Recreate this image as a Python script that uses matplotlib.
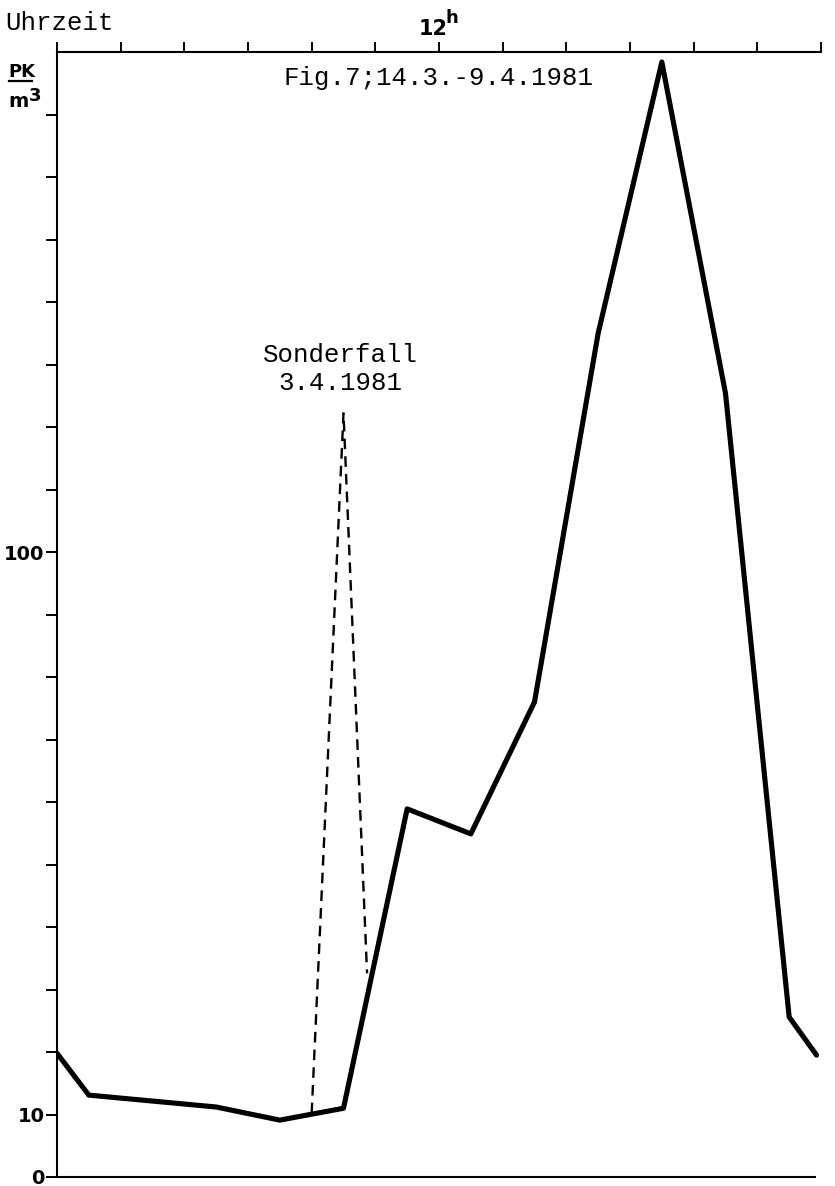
import matplotlib
matplotlib.use("Agg")
import matplotlib.pyplot as plt
from matplotlib.lines import Line2D

# Pollen counts (PK/m^3) by time of day, mean curve 14.3.-9.4.1981
hours_mean = [6.0, 6.5, 8.5, 9.5, 10.5, 11.5, 12.5, 13.5, 14.5, 15.5, 16.5, 17.5, 17.93]
pk_mean = [19.8, 13.1, 11.2, 9.1, 11.0, 58.9, 54.9, 76.0, 135.0, 178.4, 125.4, 25.6, 19.5]

# Special case 3.4.1981
hours_special = [10.0, 10.5, 10.87]
pk_special = [10.2, 122.2, 32.6]

hour_ticks = list(range(6, 19))
pk_ticks = list(range(0, 180, 10))
pk_labelled = {0: "0", 10: "10", 100: "100"}

mono = ["Liberation Mono", "DejaVu Sans Mono"]
sans_bold = dict(family="DejaVu Sans", fontweight="bold")
mono_size = 18.5

W, H = 835, 1186
fig = plt.figure(figsize=(W / 100, H / 100), dpi=100)
left, right, top, bottom = 57, 821, 52, 1177
ax = fig.add_axes([left / W, (H - bottom) / H, (right - left) / W, (bottom - top) / H])

ax.plot(hours_mean, pk_mean, color="black", lw=3.7, solid_joinstyle="round",
        solid_capstyle="round", zorder=3)
ax.plot(hours_special, pk_special, color="black", lw=1.7, dashes=(4.5, 3), zorder=2)

ax.set_xlim(6, 18)
ax.set_ylim(0, 180)

ax.spines["right"].set_visible(False)
for side in ("left", "top", "bottom"):
    ax.spines[side].set_linewidth(1.5)
ax.spines["bottom"].set_bounds(6, 17.9)

# top time axis
ax.xaxis.tick_top()
ax.set_xticks(hour_ticks)
ax.set_xticklabels([""] * len(hour_ticks))
ax.tick_params(axis="x", direction="out", length=7, width=1.4, top=True, bottom=False)

# left count axis
ax.set_yticks(pk_ticks)
ax.set_yticklabels([pk_labelled.get(t, "") for t in pk_ticks], fontsize=14, **sans_bold)
ax.tick_params(axis="y", direction="out", length=8, width=1.4, pad=1)

# texts
fig.text(5 / W, 1 - 30 / H, "Uhrzeit", family=mono, fontsize=mono_size, ha="left",
         va="baseline")
ax.annotate("12", xy=(12, 180), xycoords="data", xytext=(-4, 12), textcoords="offset points",
            ha="center", va="baseline", fontsize=15, **sans_bold)
ax.annotate("h", xy=(12, 180), xycoords="data", xytext=(9, 21), textcoords="offset points",
            ha="center", va="baseline", fontsize=13, **sans_bold)

fig.text(8 / W, 1 - 77 / H, "PK", ha="left", va="baseline", fontsize=13, **sans_bold)
fig.add_artist(Line2D([9 / W, 32 / W], [1 - 81 / H, 1 - 81 / H], color="black", lw=1.6))
fig.text(8 / W, 1 - 107 / H, "m", ha="left", va="baseline", fontsize=14, **sans_bold)
fig.text(29 / W, 1 - 101 / H, "3", ha="left", va="baseline", fontsize=13, **sans_bold)

ax.text(12.0, 174.8, "Fig.7;14.3.-9.4.1981", family=mono, fontsize=mono_size,
        ha="center", va="baseline")
ax.text(10.45, 125.9, "Sonderfall\n3.4.1981", family=mono, fontsize=mono_size,
        ha="center", va="baseline", linespacing=1.2)

fig.savefig("out.png", dpi=100, facecolor="white")
